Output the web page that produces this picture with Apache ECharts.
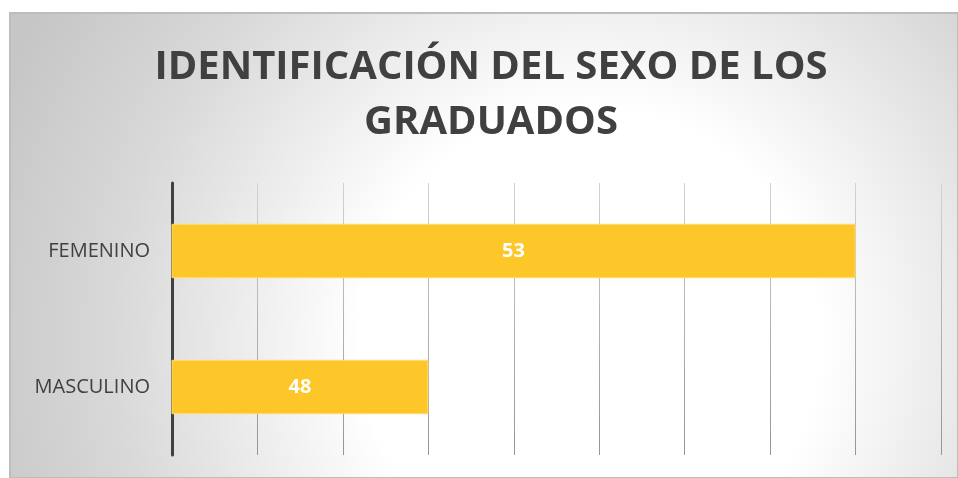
<!DOCTYPE html>
<html>
<head>
<meta charset="utf-8">
<style>
  html, body { margin: 0; padding: 0; background: #fff; }
  #chart { width: 958px; height: 478px; }
</style>
<script src="https://cdn.jsdelivr.net/npm/echarts@6/dist/echarts.min.js"></script>
</head>
<body>
<div id="chart"></div>
<script>
// data
const categories = ['FEMENINO', 'MASCULINO'];
const values = [53, 48];
const axisMin = 45;
const axisMax = 54;
const titleLines = ['IDENTIFICACIÓN DEL SEXO DE LOS', 'GRADUADOS'];

const chart = echarts.init(document.getElementById('chart'));

// background gradient in page pixels
const bgFill = new echarts.graphic.RadialGradient(590, 340, 640, [
  { offset: 0, color: '#ffffff' },
  { offset: 0.36, color: '#ffffff' },
  { offset: 0.75, color: '#d8d8d8' },
  { offset: 1, color: '#c6c6c6' }
], true);

// gridlines fade from light at the top to darker at the bottom
const gridColor = new echarts.graphic.LinearGradient(0, 183, 0, 455, [
  { offset: 0, color: '#d2d2d2' },
  { offset: 1, color: '#959595' }
], true);

chart.setOption({
  animation: false,
  backgroundColor: '#fff',
  graphic: [
    {
      type: 'rect',
      z: -10,
      shape: { x: 10, y: 13, width: 948, height: 465 },
      style: { fill: bgFill, stroke: '#bdbdbd', lineWidth: 2 }
    },
    {
      type: 'text',
      x: 491,
      y: 40,
      z: 10,
      style: {
        text: titleLines.join('\n'),
        textAlign: 'center',
        font: 'bold 40px "Open Sans", sans-serif',
        lineHeight: 55,
        fill: '#404040'
      }
    }
  ],
  grid: { left: 172, right: 17, top: 183, bottom: 23, containLabel: false },
  xAxis: {
    type: 'value',
    min: axisMin,
    max: axisMax,
    interval: 1,
    axisLabel: { show: false },
    axisLine: { show: false },
    axisTick: { show: false },
    splitLine: { show: true, lineStyle: { color: gridColor, width: 1 } }
  },
  yAxis: {
    type: 'category',
    inverse: true,
    data: categories,
    axisTick: { show: false },
    axisLine: { show: true, lineStyle: { color: '#404040', width: 3 } },
    axisLabel: {
      margin: 22,
      color: '#404040',
      fontFamily: '"Open Sans", sans-serif',
      fontSize: 20
    }
  },
  series: [
    {
      type: 'bar',
      data: values,
      barCategoryGap: '60%',
      itemStyle: { color: '#fdc629', borderColor: '#ffdb70', borderWidth: 1 },
      label: {
        show: true,
        position: 'inside',
        color: '#ffffff',
        fontFamily: '"Open Sans", sans-serif',
        fontWeight: 'bold',
        fontSize: 20
      }
    }
  ]
});
</script>
</body>
</html>
